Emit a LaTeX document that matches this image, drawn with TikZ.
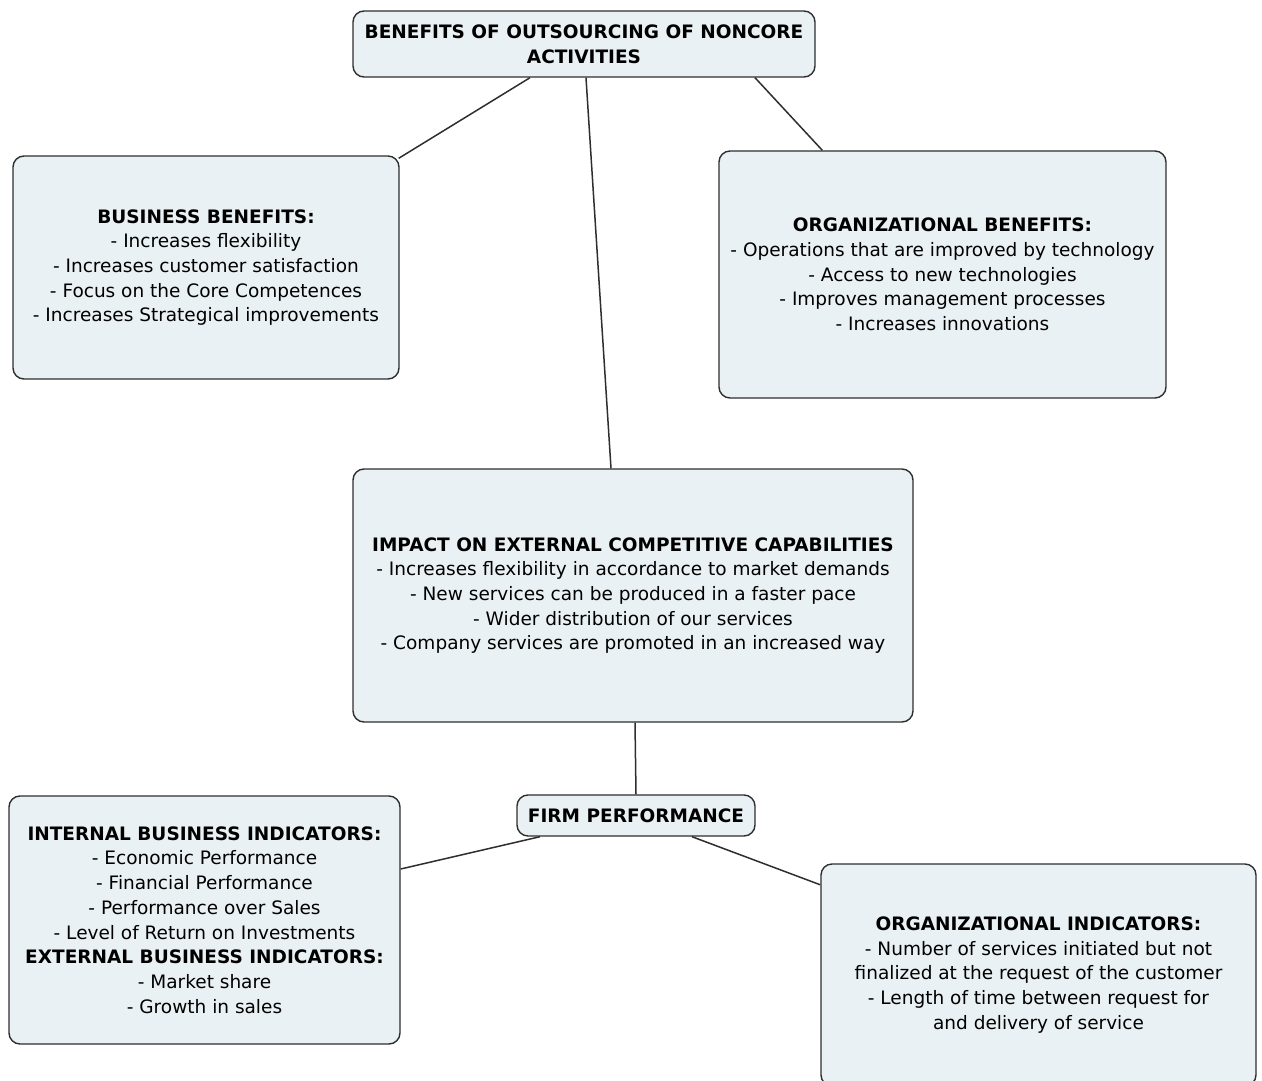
\documentclass[tikz,border=0pt]{standalone}
\usepackage{fontspec}
\setmainfont{DejaVu Sans}
\usetikzlibrary{calc}

\definecolor{boxfill}{HTML}{EAF1F4}
\definecolor{boxline}{HTML}{2E2E2E}

\tikzset{
  topic/.style={draw=boxline, fill=boxfill, line width=1.4pt, rounded corners=11pt,
    align=center, inner sep=0pt, font=\fontsize{18.5}{24.7}\selectfont},
  link/.style={draw=boxline, line width=1.5pt}
}

\begin{document}
\begin{tikzpicture}[x=1pt, y=-1pt]
    % Fix the page to the size of the reference
    \useasboundingbox (0,0) rectangle (1262,1081);

    % Top topic
    \node[topic, minimum width=462, minimum height=66] (benefits) at (584,44)
      {\textbf{BENEFITS OF OUTSOURCING OF NONCORE}\\\textbf{ACTIVITIES}};

    % Benefit groups
    \node[topic, minimum width=386, minimum height=223] (business) at (206,267.5)
      {\textbf{BUSINESS BENEFITS:}\\
       - Increases flexibility\\
       - Increases customer satisfaction\\
       - Focus on the Core Competences\\
       - Increases Strategical improvements};

    \node[topic, minimum width=447, minimum height=247] (organizational) at (942.5,274.5)
      {\textbf{ORGANIZATIONAL BENEFITS:}\\
       - Operations that are improved by technology\\
       - Access to new technologies\\
       - Improves management processes\\
       - Increases innovations};

    \node[topic, minimum width=560, minimum height=253] (impact) at (633,595.5)
      {\textbf{IMPACT ON EXTERNAL COMPETITIVE CAPABILITIES}\\
       - Increases flexibility in accordance to market demands\\
       - New services can be produced in a faster pace\\
       - Wider distribution of our services\\
       - Company services are promoted in an increased way};

    % Performance part
    \node[topic, minimum width=238, minimum height=41] (firm) at (636,815.5)
      {\textbf{FIRM PERFORMANCE}};

    \node[topic, minimum width=391, minimum height=248] (indicators) at (204.5,920)
      {\textbf{INTERNAL BUSINESS INDICATORS:}\\
       - Economic Performance\\
       - Financial Performance\\
       - Performance over Sales\\
       - Level of Return on Investments\\
       \textbf{EXTERNAL BUSINESS INDICATORS:}\\
       - Market share\\
       - Growth in sales};

    \node[topic, minimum width=435, minimum height=222] (orgindicators) at (1038.5,975)
      {\textbf{ORGANIZATIONAL INDICATORS:}\\
       - Number of services initiated but not\\
       finalized at the request of the customer\\
       - Length of time between request for\\
       and delivery of service};

    % Connectors
    \draw[link] ($(benefits.south)+(-54,0)$) -- ($(business.north east)+(-1,3)$);
    \draw[link] ($(benefits.south)+(2,0)$) -- ($(impact.north)+(-22,0)$);
    \draw[link] ($(benefits.south)+(171,0)$) -- ($(organizational.north west)+(104,0)$);
    \draw[link] ($(impact.south)+(2,0)$) -- (firm.north);
    \draw[link] ($(firm.south)+(-96,0)$) -- ($(indicators.east)+(0,-51)$);
    \draw[link] ($(firm.south)+(56,0)$) -- ($(orgindicators.north west)+(0,21.5)$);
\end{tikzpicture}
\end{document}
